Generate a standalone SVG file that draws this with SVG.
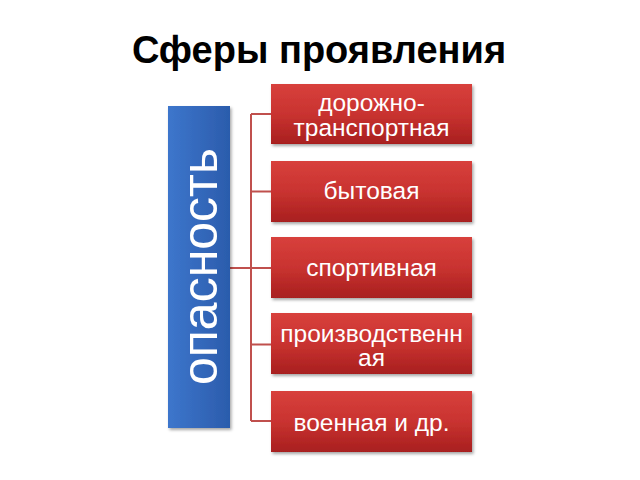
<svg xmlns="http://www.w3.org/2000/svg" width="640" height="480" viewBox="0 0 640 480">
<defs>
<linearGradient id="red" x1="0" y1="0" x2="0" y2="1">
<stop offset="0" stop-color="#d8403c"/>
<stop offset="0.5" stop-color="#c93330"/>
<stop offset="1" stop-color="#a81f1f"/>
</linearGradient>
<linearGradient id="blue" x1="0" y1="0" x2="1" y2="0">
<stop offset="0" stop-color="#3d76cc"/>
<stop offset="1" stop-color="#2b5cac"/>
</linearGradient>
<filter id="sh" x="-10%" y="-10%" width="130%" height="130%">
<feDropShadow dx="1.5" dy="2" stdDeviation="1.5" flood-color="#000" flood-opacity="0.35"/>
</filter>
<style>
.box{fill:url(#red);filter:url(#sh)}
.lbl{font-family:"Liberation Sans",Arial,sans-serif;font-size:24.5px;fill:#fff;text-anchor:middle}
.conn{stroke:#c0504d;stroke-width:2;fill:none}
</style>
</defs>
<rect width="640" height="480" fill="#fff"/>
<text x="319" y="63" font-family="Liberation Sans,Arial,sans-serif" font-size="38" font-weight="bold" text-anchor="middle" fill="#000">Сферы проявления</text>
<g id="connectors">
<path class="conn" d="M230 268H251M251 114V421M251 114H271M251 191.5H271M251 268H271M251 344.5H271M251 421H271"/>
</g>
<g id="n0">
<rect x="168" y="106" width="62" height="322" fill="url(#blue)" filter="url(#sh)"/>
<text transform="translate(217 266.5) rotate(-90)" font-family="Liberation Sans,Arial,sans-serif" font-size="50" fill="#fff" text-anchor="middle">опасность</text>
</g>
<g id="n1">
<rect class="box" x="271" y="84" width="201" height="60"/>
<text class="lbl" x="371.5" y="111">дорожно-</text>
<text class="lbl" x="371.5" y="136">транспортная</text>
</g>
<g id="n2">
<rect class="box" x="271" y="161" width="201" height="61"/>
<text class="lbl" x="371.5" y="199">бытовая</text>
</g>
<g id="n3">
<rect class="box" x="271" y="237" width="201" height="61"/>
<text class="lbl" x="371.5" y="276">спортивная</text>
</g>
<g id="n4">
<rect class="box" x="271" y="313" width="201" height="61"/>
<text class="lbl" x="371.5" y="342">производственн</text>
<text class="lbl" x="371.5" y="366">ая</text>
</g>
<g id="n5">
<rect class="box" x="271" y="391" width="201" height="61"/>
<text class="lbl" x="371.5" y="431">военная и др.</text>
</g>
</svg>
